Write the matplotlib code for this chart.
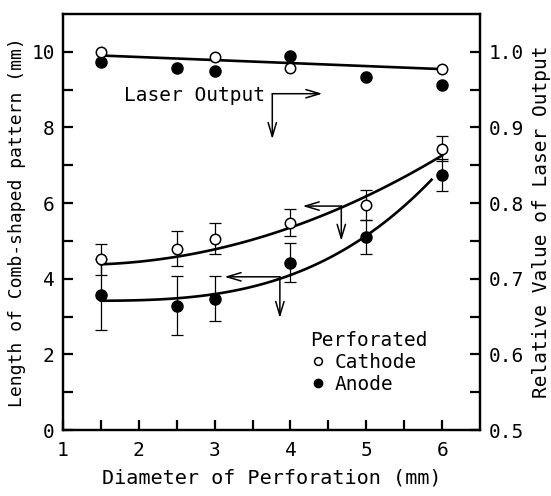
import matplotlib
matplotlib.use('Agg')
import matplotlib.pyplot as plt
import numpy as np

plt.rcParams['font.family'] = ['DejaVu Sans Mono']

# perforation diameters (mm)
diam = [1.5, 2.5, 3, 4, 5, 6]

# comb-shaped pattern length (mm), perforated cathode / anode
cath_len = [4.51, 4.79, 5.06, 5.48, 5.95, 7.43]
cath_err = [0.40, 0.46, 0.42, 0.36, 0.39, 0.33]
anode_len = [3.58, 3.29, 3.47, 4.42, 5.10, 6.74]
anode_err = [0.93, 0.78, 0.60, 0.52, 0.45, 0.42]

# relative laser output
cath_out_x = [1.5, 3, 4, 6]
cath_out = [0.9995, 0.993, 0.979, 0.977]
anode_out_x = [1.5, 2.5, 3, 4, 5, 6]
anode_out = [0.986, 0.979, 0.974, 0.995, 0.967, 0.956]

# trend curves as drawn in the figure
cath_curve_x = [1.5, 2.5, 3, 4, 5, 6]
cath_curve_y = [4.38, 4.58, 4.77, 5.38, 6.15, 7.27]
anode_curve_x = [1.5, 2, 2.5, 3, 3.6, 4, 5, 5.86]
anode_curve_y = [3.43, 3.42, 3.47, 3.57, 3.89, 4.11, 5.10, 6.63]
out_line_x = [1.5, 6]
out_line_y = [0.995, 0.977]

fig = plt.figure(figsize=(5.51, 4.96), dpi=100)
ax = fig.add_axes([0.1143, 0.133, 0.757, 0.839])
ax2 = ax.twinx()

# smooth curves through the read points
cx = np.linspace(cath_curve_x[0], cath_curve_x[-1], 100)
ax.plot(cx, np.polyval(np.polyfit(cath_curve_x, cath_curve_y, 2), cx), color='black', lw=1.9)
axx = np.linspace(anode_curve_x[0], anode_curve_x[-1], 100)
ax.plot(axx, np.polyval(np.polyfit(anode_curve_x, anode_curve_y, 3), axx), color='black', lw=1.9)

ax.errorbar(diam, anode_len, yerr=anode_err, fmt='none', ecolor='black',
            capsize=4, elinewidth=0.9, capthick=0.9, zorder=3)
ax.errorbar(diam, cath_len, yerr=cath_err, fmt='none', ecolor='black',
            capsize=4, elinewidth=0.9, capthick=0.9, zorder=3)
ax.plot(diam, cath_len, 'o', color='black', mfc='white', ms=7.5, mew=1.1,
        label='Cathode', zorder=4)
ax.plot(diam, anode_len, 'o', color='black', ms=8, label='Anode', zorder=4)

ax2.plot(out_line_x, out_line_y, color='black', lw=1.9)
ax2.plot(anode_out_x, anode_out, 'o', color='black', ms=8, zorder=3)
ax2.plot(cath_out_x, cath_out, 'o', color='black', mfc='white', mew=1.1, ms=7.5, zorder=4)

ax.set_xlim(1, 6.5)
ax.set_ylim(0, 11)
ax2.set_ylim(0.5, 1.05)

ax.set_xticks([1, 2, 3, 4, 5, 6])
ax.set_xticks(np.arange(1.5, 6.5, 1.0), minor=True)
ax.set_yticks([0, 2, 4, 6, 8, 10])
ax.set_yticks([1, 3, 5, 7, 9], minor=True)
ax2.set_yticks([0.5, 0.6, 0.7, 0.8, 0.9, 1.0])
ax2.set_yticks([0.55, 0.65, 0.75, 0.85, 0.95], minor=True)
ax2.set_yticklabels(['0.5', '0.6', '0.7', '0.8', '0.9', '1.0'])

for a in (ax, ax2):
    for s in a.spines.values():
        s.set_linewidth(1.6)
    a.tick_params(which='both', direction='in', length=7, width=1.6, labelsize=14)
ax.tick_params(axis='x', pad=8)
ax.tick_params(axis='y', pad=6)
ax2.tick_params(axis='y', pad=6)

ax.set_xlabel('Diameter of Perforation (mm)', fontsize=14.5, labelpad=6)
ax.set_ylabel('Length of Comb-shaped pattern (mm)', fontsize=13, labelpad=4)
ax2.set_ylabel('Relative Value of Laser Output', fontsize=14, labelpad=6)

# annotations with arrows
arw = dict(arrowstyle='->,head_length=1.0,head_width=0.3', color='black', lw=1.1,
           shrinkA=0, shrinkB=0)
ax.text(1.8, 8.85, 'Laser Output', fontsize=14, va='center', ha='left')
ax.annotate('', xy=(4.42, 8.89), xytext=(3.76, 8.89), arrowprops=arw)
ax.annotate('', xy=(3.76, 7.69), xytext=(3.76, 8.89), arrowprops=arw)
ax.annotate('', xy=(4.16, 5.92), xytext=(4.67, 5.92), arrowprops=arw)
ax.annotate('', xy=(4.67, 5.0), xytext=(4.67, 5.92), arrowprops=arw)
ax.annotate('', xy=(3.13, 4.05), xytext=(3.86, 4.05), arrowprops=arw)
ax.annotate('', xy=(3.86, 2.96), xytext=(3.86, 4.05), arrowprops=arw)

leg = ax.legend(title='Perforated', loc='upper left',
                bbox_to_anchor=(0.56, 0.27), frameon=False, fontsize=14,
                title_fontsize=14, handletextpad=0.45, handlelength=0.8,
                markerscale=0.75, labelspacing=0.15, borderpad=0.2)
leg._legend_box.align = 'left'

fig.savefig('out.png', dpi=100)
